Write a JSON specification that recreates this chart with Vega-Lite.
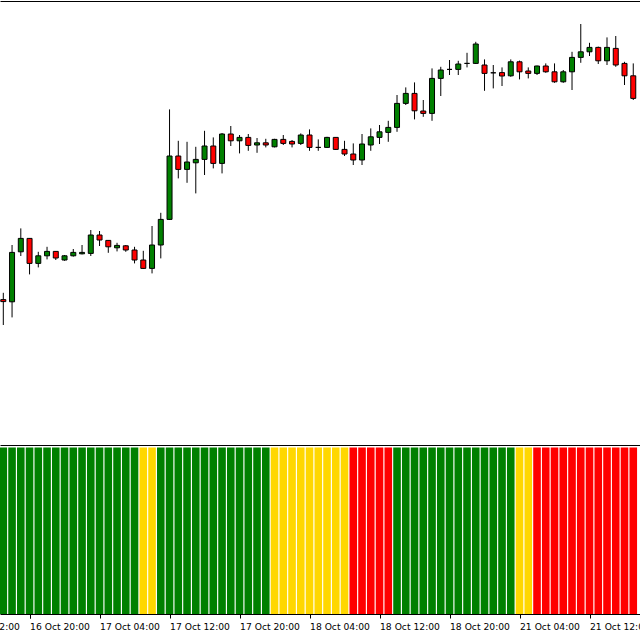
{
  "$schema": "https://vega.github.io/schema/vega-lite/v6.json",
  "width": 640,
  "height": 613,
  "autosize": {"type": "none"},
  "padding": {"top": 1, "left": 0, "right": 0, "bottom": 26},
  "background": "#ffffff",
  "config": {
    "view": {"stroke": null},
    "axis": {"labelFont": "DejaVu Sans", "labelFontSize": 9.2, "labelColor": "#000000", "domainColor": "#000000", "tickColor": "#000000", "grid": false, "title": null, "labelFlush": false, "labelOverlap": false}
  },
  "data": {"values": [
    {"i":0,"t":"16 Oct 17:00","o":1.10502,"h":1.10536,"l":1.10375,"c":1.10492,"trend":"bull","hist":1},
    {"i":1,"t":"16 Oct 18:00","o":1.10491,"h":1.10775,"l":1.10413,"c":1.10738,"trend":"bull","hist":1},
    {"i":2,"t":"16 Oct 19:00","o":1.10741,"h":1.10858,"l":1.10720,"c":1.10808,"trend":"bull","hist":1},
    {"i":3,"t":"16 Oct 20:00","o":1.10808,"h":1.10810,"l":1.10628,"c":1.10683,"trend":"bull","hist":1},
    {"i":4,"t":"16 Oct 21:00","o":1.10683,"h":1.10741,"l":1.10663,"c":1.10721,"trend":"bull","hist":1},
    {"i":5,"t":"16 Oct 22:00","o":1.10721,"h":1.10766,"l":1.10703,"c":1.10743,"trend":"bull","hist":1},
    {"i":6,"t":"16 Oct 23:00","o":1.10743,"h":1.10743,"l":1.10700,"c":1.10710,"trend":"bull","hist":1},
    {"i":7,"t":"17 Oct 00:00","o":1.10700,"h":1.10725,"l":1.10696,"c":1.10721,"trend":"bull","hist":1},
    {"i":8,"t":"17 Oct 01:00","o":1.10721,"h":1.10755,"l":1.10717,"c":1.10738,"trend":"bull","hist":1},
    {"i":9,"t":"17 Oct 02:00","o":1.10731,"h":1.10775,"l":1.10728,"c":1.10738,"trend":"bull","hist":1},
    {"i":10,"t":"17 Oct 03:00","o":1.10733,"h":1.10850,"l":1.10720,"c":1.10825,"trend":"bull","hist":1},
    {"i":11,"t":"17 Oct 04:00","o":1.10825,"h":1.10845,"l":1.10770,"c":1.10800,"trend":"bull","hist":1},
    {"i":12,"t":"17 Oct 05:00","o":1.10798,"h":1.10798,"l":1.10736,"c":1.10766,"trend":"bull","hist":1},
    {"i":13,"t":"17 Oct 06:00","o":1.10761,"h":1.10786,"l":1.10743,"c":1.10773,"trend":"bull","hist":1},
    {"i":14,"t":"17 Oct 07:00","o":1.10771,"h":1.10775,"l":1.10741,"c":1.10750,"trend":"bull","hist":1},
    {"i":15,"t":"17 Oct 08:00","o":1.10750,"h":1.10766,"l":1.10683,"c":1.10700,"trend":"bull","hist":1},
    {"i":16,"t":"17 Oct 09:00","o":1.10700,"h":1.10746,"l":1.10655,"c":1.10658,"trend":"neutral","hist":1},
    {"i":17,"t":"17 Oct 10:00","o":1.10658,"h":1.10870,"l":1.10633,"c":1.10775,"trend":"neutral","hist":1},
    {"i":18,"t":"17 Oct 11:00","o":1.10775,"h":1.10936,"l":1.10708,"c":1.10903,"trend":"bull","hist":1},
    {"i":19,"t":"17 Oct 12:00","o":1.10903,"h":1.11453,"l":1.10900,"c":1.11220,"trend":"bull","hist":1},
    {"i":20,"t":"17 Oct 13:00","o":1.11220,"h":1.11296,"l":1.11108,"c":1.11153,"trend":"bull","hist":1},
    {"i":21,"t":"17 Oct 14:00","o":1.11153,"h":1.11291,"l":1.11086,"c":1.11190,"trend":"bull","hist":1},
    {"i":22,"t":"17 Oct 15:00","o":1.11186,"h":1.11266,"l":1.11033,"c":1.11203,"trend":"bull","hist":1},
    {"i":23,"t":"17 Oct 16:00","o":1.11203,"h":1.11346,"l":1.11125,"c":1.11270,"trend":"bull","hist":1},
    {"i":24,"t":"17 Oct 17:00","o":1.11270,"h":1.11313,"l":1.11158,"c":1.11183,"trend":"bull","hist":1},
    {"i":25,"t":"17 Oct 18:00","o":1.11183,"h":1.11335,"l":1.11133,"c":1.11330,"trend":"bull","hist":1},
    {"i":26,"t":"17 Oct 19:00","o":1.11330,"h":1.11370,"l":1.11270,"c":1.11296,"trend":"bull","hist":1},
    {"i":27,"t":"17 Oct 20:00","o":1.11296,"h":1.11325,"l":1.11233,"c":1.11313,"trend":"bull","hist":1},
    {"i":28,"t":"17 Oct 21:00","o":1.11313,"h":1.11330,"l":1.11246,"c":1.11273,"trend":"bull","hist":1},
    {"i":29,"t":"17 Oct 22:00","o":1.11275,"h":1.11310,"l":1.11236,"c":1.11286,"trend":"bull","hist":1},
    {"i":30,"t":"17 Oct 23:00","o":1.11286,"h":1.11306,"l":1.11263,"c":1.11275,"trend":"bull","hist":1},
    {"i":31,"t":"18 Oct 00:00","o":1.11266,"h":1.11306,"l":1.11263,"c":1.11303,"trend":"neutral","hist":1},
    {"i":32,"t":"18 Oct 01:00","o":1.11303,"h":1.11325,"l":1.11275,"c":1.11283,"trend":"neutral","hist":1},
    {"i":33,"t":"18 Oct 02:00","o":1.11293,"h":1.11300,"l":1.11263,"c":1.11280,"trend":"neutral","hist":1},
    {"i":34,"t":"18 Oct 03:00","o":1.11283,"h":1.11333,"l":1.11275,"c":1.11325,"trend":"neutral","hist":1},
    {"i":35,"t":"18 Oct 04:00","o":1.11325,"h":1.11353,"l":1.11246,"c":1.11263,"trend":"neutral","hist":1},
    {"i":36,"t":"18 Oct 05:00","o":1.11263,"h":1.11303,"l":1.11246,"c":1.11263,"trend":"neutral","hist":1},
    {"i":37,"t":"18 Oct 06:00","o":1.11263,"h":1.11316,"l":1.11260,"c":1.11313,"trend":"neutral","hist":1},
    {"i":38,"t":"18 Oct 07:00","o":1.11313,"h":1.11313,"l":1.11250,"c":1.11253,"trend":"neutral","hist":1},
    {"i":39,"t":"18 Oct 08:00","o":1.11253,"h":1.11296,"l":1.11220,"c":1.11230,"trend":"neutral","hist":1},
    {"i":40,"t":"18 Oct 09:00","o":1.11230,"h":1.11283,"l":1.11175,"c":1.11200,"trend":"bear","hist":1},
    {"i":41,"t":"18 Oct 10:00","o":1.11200,"h":1.11330,"l":1.11175,"c":1.11280,"trend":"bear","hist":1},
    {"i":42,"t":"18 Oct 11:00","o":1.11275,"h":1.11358,"l":1.11246,"c":1.11316,"trend":"bear","hist":1},
    {"i":43,"t":"18 Oct 12:00","o":1.11313,"h":1.11375,"l":1.11280,"c":1.11341,"trend":"bear","hist":1},
    {"i":44,"t":"18 Oct 13:00","o":1.11338,"h":1.11396,"l":1.11291,"c":1.11363,"trend":"bear","hist":1},
    {"i":45,"t":"18 Oct 14:00","o":1.11363,"h":1.11525,"l":1.11341,"c":1.11483,"trend":"bull","hist":1},
    {"i":46,"t":"18 Oct 15:00","o":1.11483,"h":1.11563,"l":1.11475,"c":1.11533,"trend":"bull","hist":1},
    {"i":47,"t":"18 Oct 16:00","o":1.11533,"h":1.11588,"l":1.11403,"c":1.11446,"trend":"bull","hist":1},
    {"i":48,"t":"18 Oct 17:00","o":1.11445,"h":1.11500,"l":1.11416,"c":1.11433,"trend":"bull","hist":1},
    {"i":49,"t":"18 Oct 18:00","o":1.11433,"h":1.11658,"l":1.11396,"c":1.11608,"trend":"bull","hist":1},
    {"i":50,"t":"18 Oct 19:00","o":1.11608,"h":1.11666,"l":1.11520,"c":1.11650,"trend":"bull","hist":1},
    {"i":51,"t":"18 Oct 20:00","o":1.11653,"h":1.11700,"l":1.11625,"c":1.11653,"trend":"bull","hist":1},
    {"i":52,"t":"18 Oct 21:00","o":1.11653,"h":1.11696,"l":1.11625,"c":1.11680,"trend":"bull","hist":1},
    {"i":53,"t":"18 Oct 22:00","o":1.11683,"h":1.11736,"l":1.11663,"c":1.11683,"trend":"bull","hist":1},
    {"i":54,"t":"18 Oct 23:00","o":1.11683,"h":1.11791,"l":1.11680,"c":1.11780,"trend":"bull","hist":1},
    {"i":55,"t":"21 Oct 00:00","o":1.11675,"h":1.11703,"l":1.11546,"c":1.11633,"trend":"bull","hist":1},
    {"i":56,"t":"21 Oct 01:00","o":1.11636,"h":1.11675,"l":1.11558,"c":1.11636,"trend":"bull","hist":1},
    {"i":57,"t":"21 Oct 02:00","o":1.11637,"h":1.11663,"l":1.11570,"c":1.11620,"trend":"bull","hist":1},
    {"i":58,"t":"21 Oct 03:00","o":1.11621,"h":1.11703,"l":1.11616,"c":1.11691,"trend":"bull","hist":1},
    {"i":59,"t":"21 Oct 04:00","o":1.11691,"h":1.11697,"l":1.11603,"c":1.11641,"trend":"neutral","hist":1},
    {"i":60,"t":"21 Oct 05:00","o":1.11645,"h":1.11663,"l":1.11608,"c":1.11633,"trend":"neutral","hist":1},
    {"i":61,"t":"21 Oct 06:00","o":1.11633,"h":1.11672,"l":1.11625,"c":1.11670,"trend":"bear","hist":1},
    {"i":62,"t":"21 Oct 07:00","o":1.11670,"h":1.11683,"l":1.11636,"c":1.11641,"trend":"bear","hist":1},
    {"i":63,"t":"21 Oct 08:00","o":1.11641,"h":1.11683,"l":1.11586,"c":1.11591,"trend":"bear","hist":1},
    {"i":64,"t":"21 Oct 09:00","o":1.11591,"h":1.11650,"l":1.11586,"c":1.11641,"trend":"bear","hist":1},
    {"i":65,"t":"21 Oct 10:00","o":1.11641,"h":1.11741,"l":1.11550,"c":1.11713,"trend":"bear","hist":1},
    {"i":66,"t":"21 Oct 11:00","o":1.11713,"h":1.11880,"l":1.11686,"c":1.11741,"trend":"bear","hist":1},
    {"i":67,"t":"21 Oct 12:00","o":1.11741,"h":1.11786,"l":1.11720,"c":1.11763,"trend":"bear","hist":1},
    {"i":68,"t":"21 Oct 13:00","o":1.11763,"h":1.11767,"l":1.11680,"c":1.11696,"trend":"bear","hist":1},
    {"i":69,"t":"21 Oct 14:00","o":1.11696,"h":1.11813,"l":1.11675,"c":1.11763,"trend":"bear","hist":1},
    {"i":70,"t":"21 Oct 15:00","o":1.11758,"h":1.11820,"l":1.11666,"c":1.11675,"trend":"bear","hist":1},
    {"i":71,"t":"21 Oct 16:00","o":1.11683,"h":1.11691,"l":1.11575,"c":1.11621,"trend":"bear","hist":1},
    {"i":72,"t":"21 Oct 17:00","o":1.11621,"h":1.11683,"l":1.11500,"c":1.11508,"trend":"bear","hist":1}
  ]},
  "layer": [
    {
      "mark": {"type": "rule", "color": "#000000", "strokeWidth": 1},
      "encoding": {
        "x": {"field": "i", "type": "quantitative", "scale": {"domain": [-0.377, 72.77], "nice": false, "zero": false, "padding": 0},
              "axis": {"orient": "top", "domain": true, "ticks": false, "labels": false}},
        "y": {"field": "l", "type": "quantitative", "scale": {"domain": [1.0893, 1.11995], "nice": false, "zero": false, "padding": 0}, "axis": null},
        "y2": {"field": "h"}
      }
    },
    {
      "transform": [{"filter": "datum.c >= datum.o"}],
      "mark": {"type": "bar", "size": 5, "fill": "#008000", "stroke": "#000000", "strokeWidth": 1},
      "encoding": {
        "x": {"field": "i", "type": "quantitative", "scale": {"domain": [-0.377, 72.77], "nice": false, "zero": false, "padding": 0},
              "axis": {"orient": "top", "offset": -444, "domain": true, "ticks": false, "labels": false}},
        "y": {"field": "o", "type": "quantitative", "scale": {"domain": [1.0893, 1.11995], "nice": false, "zero": false, "padding": 0}, "axis": null},
        "y2": {"field": "c"}
      }
    },
    {
      "transform": [{"filter": "datum.c < datum.o"}],
      "mark": {"type": "bar", "size": 5, "fill": "#FF0000", "stroke": "#000000", "strokeWidth": 1},
      "encoding": {
        "x": {"field": "i", "type": "quantitative", "scale": {"domain": [-0.377, 72.77], "nice": false, "zero": false, "padding": 0},
              "axis": {"orient": "bottom", "domain": false, "ticks": true, "tickSize": 4, "values": [3], "labelExpr": "'16 Oct 12:00'", "labelOffset": -70, "labelAlign": "left", "labelBaseline": "alphabetic", "labelPadding": 11}},
        "y": {"field": "o", "type": "quantitative", "scale": {"domain": [1.0893, 1.11995], "nice": false, "zero": false, "padding": 0}, "axis": null},
        "y2": {"field": "c"}
      }
    },
    {
      "mark": {"type": "bar", "size": 7.6},
      "encoding": {
        "x": {"field": "i", "type": "quantitative", "scale": {"domain": [-0.377, 72.77], "nice": false, "zero": false, "padding": 0},
              "axis": {"orient": "bottom", "domain": true, "ticks": true, "tickSize": 4, "values": [3, 11, 19, 27, 35, 43, 51, 59, 67],
                       "labelExpr": "['16 Oct 20:00','17 Oct 04:00','17 Oct 12:00','17 Oct 20:00','18 Oct 04:00','18 Oct 12:00','18 Oct 20:00','21 Oct 04:00','21 Oct 12:00'][(datum.value - 3) / 8]",
                       "labelAlign": "left", "labelBaseline": "alphabetic", "labelPadding": 11}},
        "y": {"field": "hist", "type": "quantitative", "scale": {"domain": [0, 3.68], "nice": false, "zero": true, "padding": 0}, "axis": null},
        "color": {"field": "trend", "type": "nominal", "scale": {"domain": ["bull", "neutral", "bear"], "range": ["#008000", "#FFD700", "#FF0000"]}, "legend": null}
      }
    }
  ],
  "resolve": {"scale": {"y": "independent", "color": "independent"}, "axis": {"x": "independent", "y": "independent"}}
}
